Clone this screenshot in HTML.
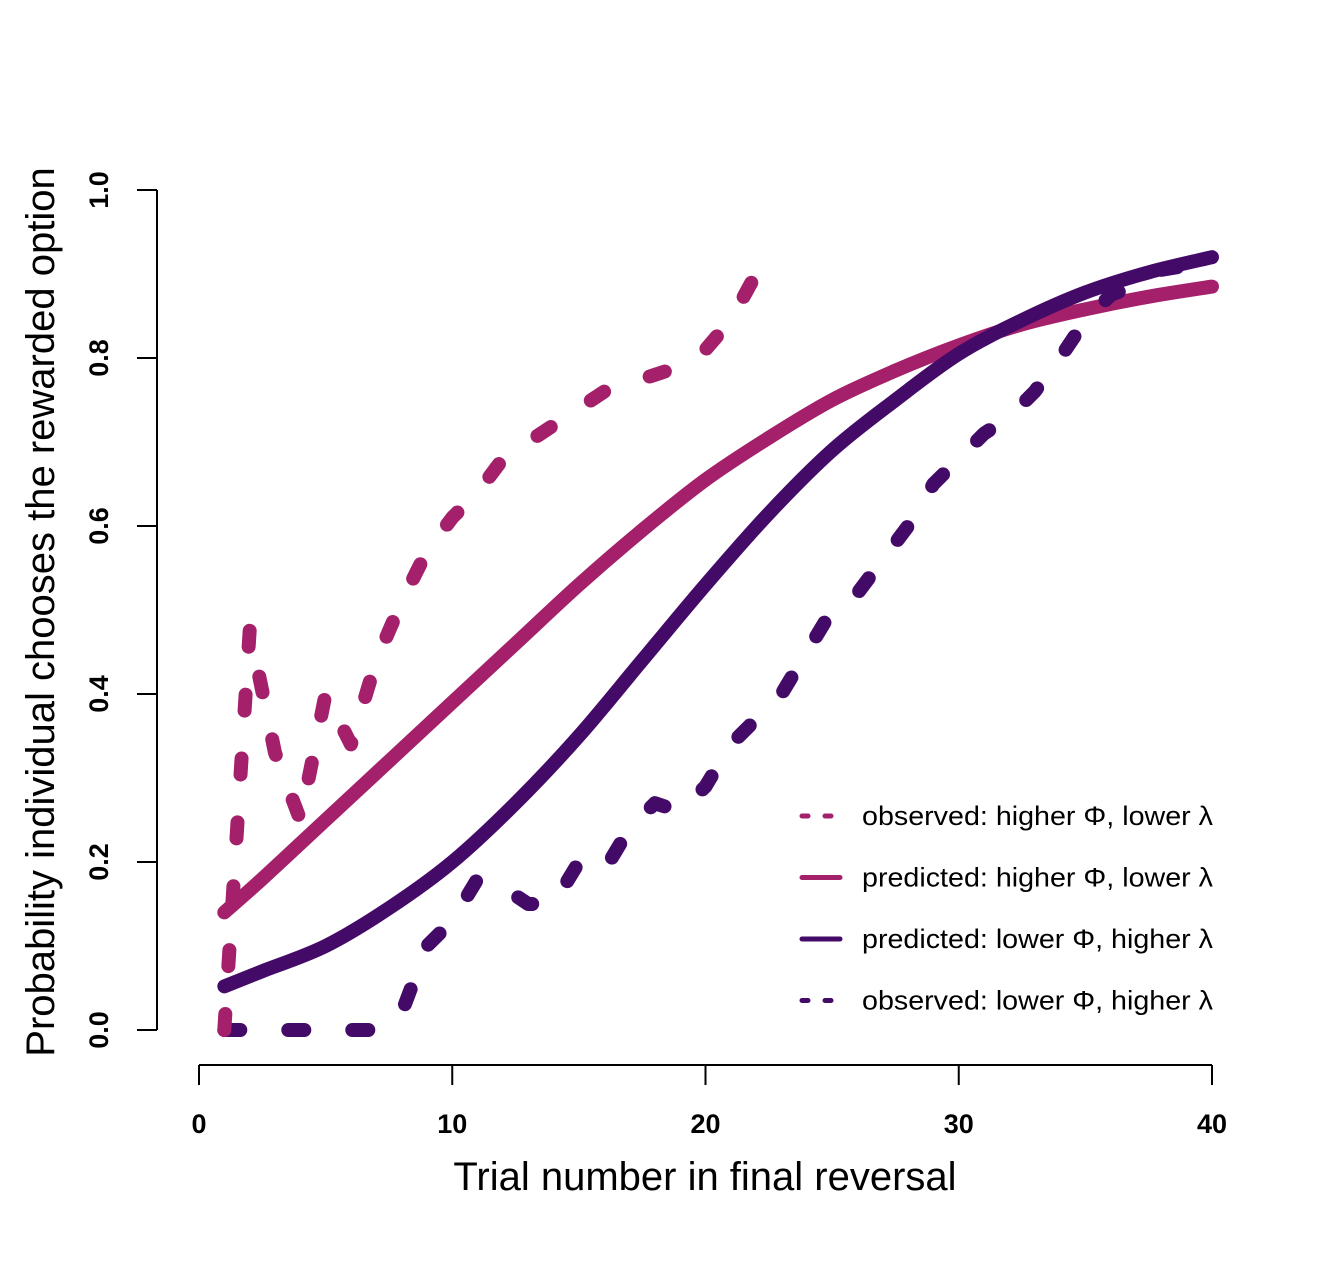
<!DOCTYPE html>
<html><head><meta charset="utf-8"><style>
html,body{margin:0;padding:0;background:#fff;}
svg text{font-family:"Liberation Sans",Arial,sans-serif;}
</style></head><body>
<svg id="chart" width="1334" height="1260" xmlns="http://www.w3.org/2000/svg">
<g id="axes"></g>
<g id="series"></g>
<g id="legend"></g>
</svg>
<script>
const xTicks=[0,10,20,30,40];
const yTicks=["0.0","0.2","0.4","0.6","0.8","1.0"];
const obsTrials=[1,2,3,4,5,6,7,8,9,10,11,12,13,14,15,16,17,18,19,20,21,22];
const obsHigherPhi=[0,0.476,0.33,0.25,0.40,0.34,0.44,0.51,0.57,0.61,0.64,0.68,0.70,0.72,0.74,0.76,0.77,0.78,0.79,0.81,0.845,0.90];
const obsTrials2=[1,2,3,4,5,6,7,8,9,10,11,12,13,14,15,16,17,18,19,20,21,22,23,24,25,26,27,28,29,30,31,32,33,34,35,36,37,38,39,40];
const obsLowerPhi=[0,0,0,0,0,0,0,0.02,0.10,0.13,0.18,0.17,0.15,0.15,0.20,0.19,0.24,0.27,0.26,0.29,0.34,0.37,0.40,0.45,0.50,0.52,0.56,0.60,0.65,0.68,0.71,0.73,0.76,0.80,0.845,0.875,0.887,0.905,0.91,0.917];
const predTrials=[1,2.5,5,7.5,10,12.5,15,17.5,20,22.5,25,27.5,30,32.5,35,37.5,40];
const predHigherPhi=[0.14,0.18,0.25,0.32,0.39,0.46,0.53,0.595,0.655,0.705,0.75,0.785,0.815,0.84,0.858,0.873,0.885];
const predLowerPhi=[0.052,0.07,0.10,0.145,0.20,0.27,0.35,0.44,0.53,0.615,0.69,0.75,0.805,0.845,0.878,0.902,0.92];

const NS="http://www.w3.org/2000/svg";
const X=v=>199+v*(1212-199)/40;
const Y=v=>1030-v*840;
function mk(tag,attrs,parent){const e=document.createElementNS(NS,tag);for(const k in attrs)e.setAttribute(k,attrs[k]);parent.appendChild(e);return e;}
const axes=document.getElementById('axes'),series=document.getElementById('series'),legend=document.getElementById('legend');

let l=mk('line',{x1:X(0),x2:X(40),y1:1065,y2:1065,stroke:'#000','stroke-width':2},axes);

xTicks.forEach(t=>{
 let k=mk('line',{x1:X(t),x2:X(t),y1:1065,y2:1085,stroke:'#000','stroke-width':2},axes);
 
 let tx=mk('text',{x:X(t),y:1133,'text-anchor':'middle','font-size':27,'font-weight':'bold'},axes);tx.textContent=t;
 
});
l=mk('line',{x1:157,x2:157,y1:Y(0),y2:Y(1),stroke:'#000','stroke-width':2},axes);

yTicks.forEach(t=>{
 const y=Y(parseFloat(t));
 let k=mk('line',{x1:137,x2:157,y1:y,y2:y,stroke:'#000','stroke-width':2},axes);
 
 let tx=mk('text',{x:0,y:0,transform:`translate(108,${y}) rotate(-90)`,'text-anchor':'middle','font-size':27,'font-weight':'bold'},axes);tx.textContent=t;
 
});
let xt=mk('text',{x:705,y:1190,'text-anchor':'middle','font-size':40},axes);xt.textContent='Trial number in final reversal';

let yt=mk('text',{x:0,y:0,transform:'translate(54,612) rotate(-90)','text-anchor':'middle','font-size':40},axes);yt.textContent='Probability individual chooses the rewarded option';


function poly(xs,ys){return xs.map((x,i)=>`${i?'L':'M'}${X(x).toFixed(1)},${Y(ys[i]).toFixed(1)}`).join(' ');}
function smooth(xs,ys){
 const p=xs.map((x,i)=>[X(x),Y(ys[i])]);let d=`M${p[0][0]},${p[0][1]}`;
 for(let i=0;i<p.length-1;i++){const p0=p[i-1]||p[i],p1=p[i],p2=p[i+1],p3=p[i+2]||p2;
  d+=` C${p1[0]+(p2[0]-p0[0])/6},${p1[1]+(p2[1]-p0[1])/6} ${p2[0]-(p3[0]-p1[0])/6},${p2[1]-(p3[1]-p1[1])/6} ${p2[0]},${p2[1]}`;}
 return d;}
const PINK='#A4206A',PURP='#440A68';
let s=mk('path',{d:smooth(predTrials,predHigherPhi),fill:'none',stroke:PINK,'stroke-width':14,'stroke-linecap':'round'},series);

s=mk('path',{d:smooth(predTrials,predLowerPhi),fill:'none',stroke:PURP,'stroke-width':14,'stroke-linecap':'round'},series);

s=mk('path',{d:poly(obsTrials2,obsLowerPhi),fill:'none',stroke:PURP,'stroke-width':14,'stroke-linecap':'round','stroke-linejoin':'round','stroke-dasharray':'16 48'},series);

s=mk('path',{d:poly(obsTrials,obsHigherPhi),fill:'none',stroke:PINK,'stroke-width':14,'stroke-linecap':'round','stroke-linejoin':'round','stroke-dasharray':'16 48'},series);


const legLabels=['observed: higher Φ, lower λ','predicted: higher Φ, lower λ','predicted: lower Φ, higher λ','observed: lower Φ, higher λ'];
const legColors=[PINK,PINK,PURP,PURP];
const legDash=[true,false,false,true];
legLabels.forEach((t,i)=>{
 const y=816+i*61.5;
 let ln=mk('line',{x1:802,x2:840,y1:y,y2:y,stroke:legColors[i],'stroke-width':5,'stroke-linecap':'round'},legend);
 if(legDash[i])ln.setAttribute('stroke-dasharray','6 17');
 
 let tx=mk('text',{x:862,y:y+9,'font-size':26.5,textLength:351,lengthAdjust:'spacingAndGlyphs'},legend);tx.textContent=t;
 
});
</script>
</body></html>
